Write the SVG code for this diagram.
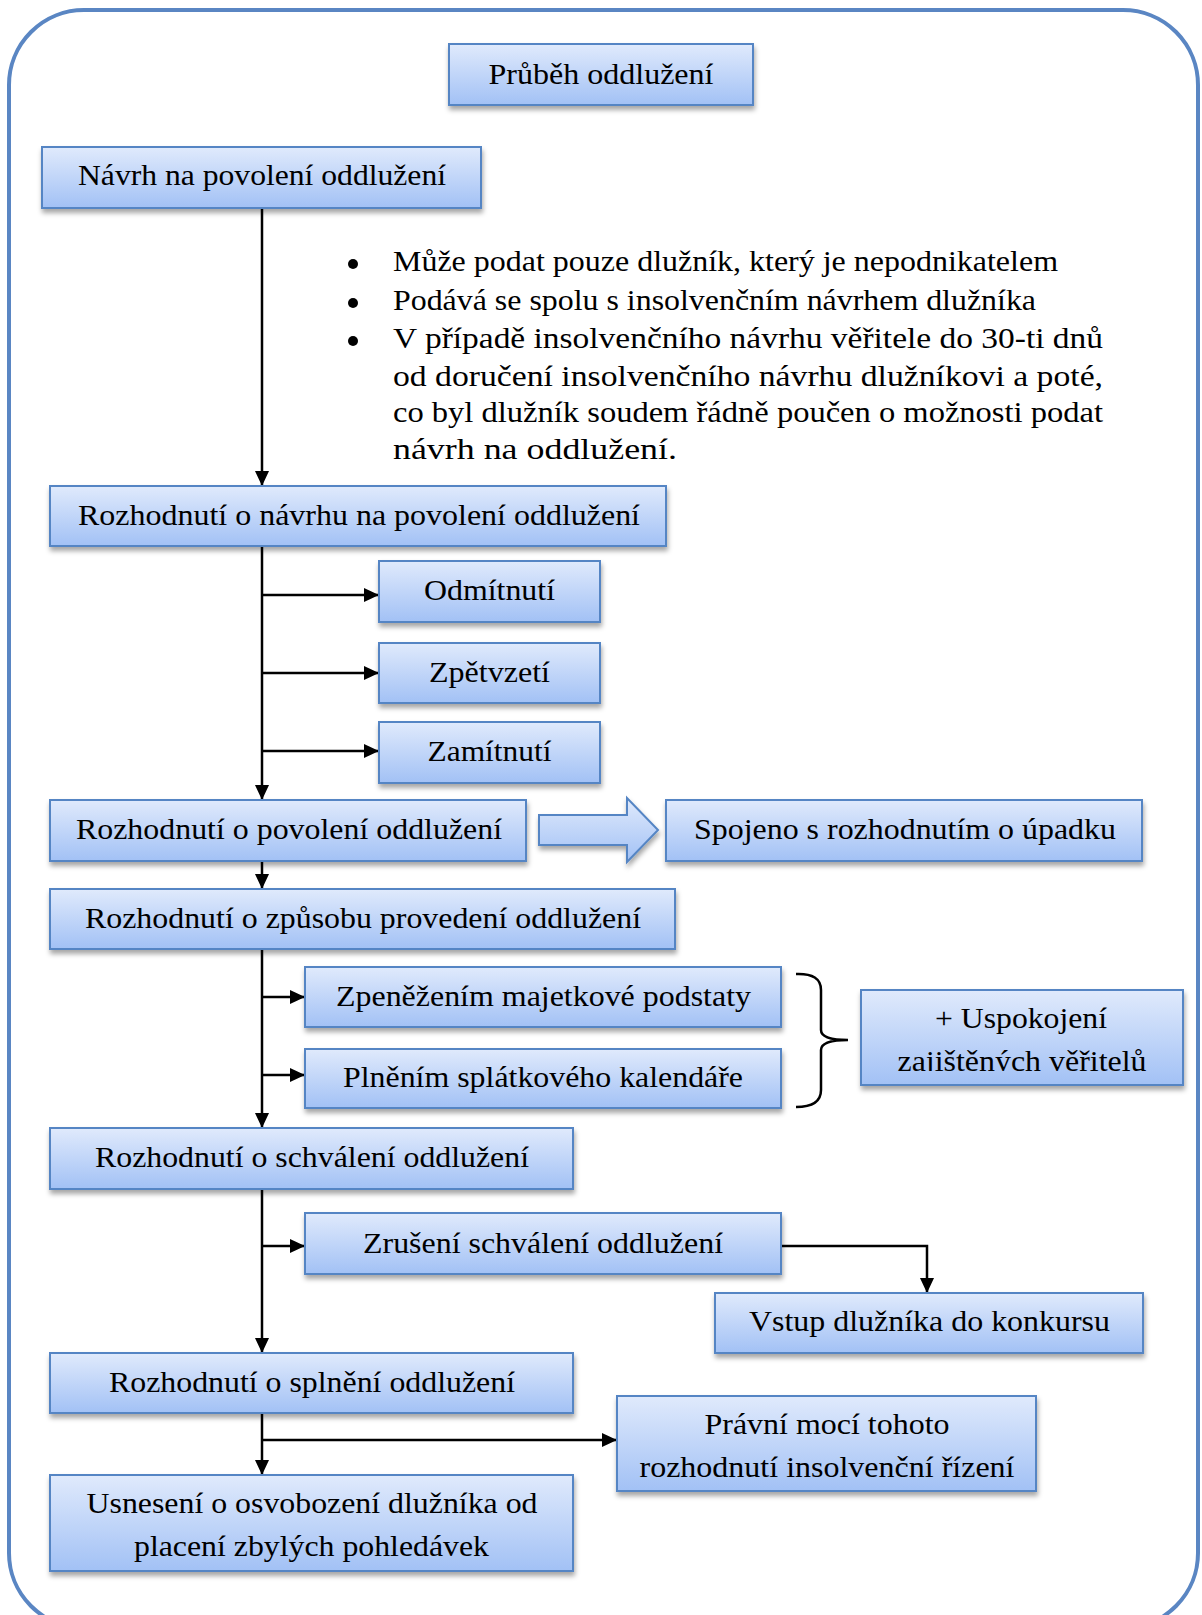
<svg xmlns="http://www.w3.org/2000/svg" width="1202" height="1615" viewBox="0 0 1202 1615">
  <defs>
    <linearGradient id="boxGrad" x1="0" y1="0" x2="0" y2="1">
      <stop offset="0" stop-color="#e0eafc"/>
      <stop offset="1" stop-color="#a2c1f5"/>
    </linearGradient>
    <filter id="shadow" x="-5%" y="-20%" width="112%" height="150%">
      <feDropShadow dx="1" dy="4" stdDeviation="2.5" flood-color="#000" flood-opacity="0.35"/>
    </filter>
    <marker id="arrow" markerUnits="userSpaceOnUse" markerWidth="16" markerHeight="14" refX="15" refY="7" orient="auto">
      <path d="M0,0 L15,7 L0,14 z" fill="#000"/>
    </marker>
    <clipPath id="clipUsp">
      <rect x="861" y="990" width="322" height="81"/>
    </clipPath>
  </defs>
  <style>
    .box { fill: url(#boxGrad); stroke: #5585c4; stroke-width: 2; filter: url(#shadow); }
    .lbl { font-family: "Liberation Serif", "Times New Roman", serif; font-size: 30px; fill: #000; text-anchor: middle; }
    .body { font-family: "Liberation Serif", "Times New Roman", serif; font-size: 30px; fill: #000; }
    .conn { fill: none; stroke: #000; stroke-width: 2.5; }
    .arr { marker-end: url(#arrow); }
  </style>

  <rect x="9" y="10" width="1189" height="1618" rx="75" ry="75" fill="#fff" stroke="#5a86c3" stroke-width="4"/>

  <g id="connectors">
    <line class="conn arr" x1="262" y1="208" x2="262" y2="486"/>
    <line class="conn arr" x1="262" y1="546" x2="262" y2="800"/>
    <line class="conn arr" x1="262" y1="595" x2="379" y2="595"/>
    <line class="conn arr" x1="262" y1="673" x2="379" y2="673"/>
    <line class="conn arr" x1="262" y1="751" x2="379" y2="751"/>
    <line class="conn arr" x1="262" y1="861" x2="262" y2="889"/>
    <line class="conn arr" x1="262" y1="949" x2="262" y2="1128"/>
    <line class="conn arr" x1="262" y1="997" x2="305" y2="997"/>
    <line class="conn arr" x1="262" y1="1075" x2="305" y2="1075"/>
    <line class="conn arr" x1="262" y1="1189" x2="262" y2="1353"/>
    <line class="conn arr" x1="262" y1="1246" x2="305" y2="1246"/>
    <polyline class="conn arr" points="781,1246 927,1246 927,1293"/>
    <line class="conn arr" x1="262" y1="1413" x2="262" y2="1475"/>
    <line class="conn arr" x1="262" y1="1440" x2="617" y2="1440"/>
    <path class="conn" d="M796,974 Q821,973 821,990 L821,1030 Q821,1040 848,1040 Q821,1040 821,1050 L821,1090 Q821,1107 796,1107"/>
  </g>

  <g id="title">
    <rect class="box" x="449" y="44" width="304" height="61"/>
    <text class="lbl" x="601" y="84" textLength="225" lengthAdjust="spacingAndGlyphs">Průběh oddlužení</text>
  </g>

  <g id="navrh">
    <rect class="box" x="42" y="147" width="439" height="61"/>
    <text class="lbl" x="262" y="185" textLength="368" lengthAdjust="spacingAndGlyphs">Návrh na povolení oddlužení</text>
  </g>

  <g id="notes">
    <circle cx="353" cy="264" r="5"/>
    <circle cx="353" cy="303" r="5"/>
    <circle cx="353" cy="341" r="5"/>
    <text class="body" x="393" y="271" textLength="665" lengthAdjust="spacingAndGlyphs">Může podat pouze dlužník, který je nepodnikatelem</text>
    <text class="body" x="393" y="310" textLength="643" lengthAdjust="spacingAndGlyphs">Podává se spolu s insolvenčním návrhem dlužníka</text>
    <text class="body" x="393" y="348" textLength="710" lengthAdjust="spacingAndGlyphs">V případě insolvenčního návrhu věřitele do 30-ti dnů</text>
    <text class="body" x="393" y="386" textLength="710" lengthAdjust="spacingAndGlyphs">od doručení insolvenčního návrhu dlužníkovi a poté,</text>
    <text class="body" x="393" y="422" textLength="710" lengthAdjust="spacingAndGlyphs">co byl dlužník soudem řádně poučen o možnosti podat</text>
    <text class="body" x="393" y="459" textLength="284" lengthAdjust="spacingAndGlyphs">návrh na oddlužení.</text>
  </g>

  <g id="rozhodnuti-navrh">
    <rect class="box" x="50" y="486" width="616" height="60"/>
    <text class="lbl" x="359" y="525" textLength="562" lengthAdjust="spacingAndGlyphs">Rozhodnutí o návrhu na povolení oddlužení</text>
  </g>

  <g id="odmitnuti">
    <rect class="box" x="379" y="561" width="221" height="61"/>
    <text class="lbl" x="489.5" y="600" textLength="131" lengthAdjust="spacingAndGlyphs">Odmítnutí</text>
  </g>

  <g id="zpetvzeti">
    <rect class="box" x="379" y="643" width="221" height="60"/>
    <text class="lbl" x="489.5" y="682" textLength="121" lengthAdjust="spacingAndGlyphs">Zpětvzetí</text>
  </g>

  <g id="zamitnuti">
    <rect class="box" x="379" y="722" width="221" height="61"/>
    <text class="lbl" x="489.5" y="761" textLength="124" lengthAdjust="spacingAndGlyphs">Zamítnutí</text>
  </g>

  <g id="rozhodnuti-povoleni">
    <rect class="box" x="50" y="800" width="476" height="61"/>
    <text class="lbl" x="289" y="838.5" textLength="426" lengthAdjust="spacingAndGlyphs">Rozhodnutí o povolení oddlužení</text>
  </g>

  <g id="block-arrow">
    <polygon class="box" points="539,815 627,815 627,798 658,830 627,862 627,845 539,845"/>
  </g>

  <g id="spojeno">
    <rect class="box" x="666" y="800" width="476" height="61"/>
    <text class="lbl" x="905" y="838.5" textLength="422" lengthAdjust="spacingAndGlyphs">Spojeno s rozhodnutím o úpadku</text>
  </g>

  <g id="rozhodnuti-zpusob">
    <rect class="box" x="50" y="889" width="625" height="60"/>
    <text class="lbl" x="363" y="928" textLength="556" lengthAdjust="spacingAndGlyphs">Rozhodnutí o způsobu provedení oddlužení</text>
  </g>

  <g id="zpenezenim">
    <rect class="box" x="305" y="967" width="476" height="60"/>
    <text class="lbl" x="543.5" y="1006" textLength="415" lengthAdjust="spacingAndGlyphs">Zpeněžením majetkové podstaty</text>
  </g>

  <g id="plnenim">
    <rect class="box" x="305" y="1049" width="476" height="59"/>
    <text class="lbl" x="543" y="1087" textLength="400" lengthAdjust="spacingAndGlyphs">Plněním splátkového kalendáře</text>
  </g>

  <g id="uspokojeni">
    <rect class="box" x="861" y="990" width="322" height="95"/>
    <g clip-path="url(#clipUsp)">
      <text class="lbl" x="1021" y="1028" textLength="172" lengthAdjust="spacingAndGlyphs">+ Uspokojení</text>
      <text class="lbl" x="1022" y="1071" textLength="249" lengthAdjust="spacingAndGlyphs">zajištěných věřitelů</text>
    </g>
  </g>

  <g id="rozhodnuti-schvaleni">
    <rect class="box" x="50" y="1128" width="523" height="61"/>
    <text class="lbl" x="312" y="1166.5" textLength="434" lengthAdjust="spacingAndGlyphs">Rozhodnutí o schválení oddlužení</text>
  </g>

  <g id="zruseni">
    <rect class="box" x="305" y="1213" width="476" height="61"/>
    <text class="lbl" x="543" y="1252.5" textLength="360" lengthAdjust="spacingAndGlyphs">Zrušení schválení oddlužení</text>
  </g>

  <g id="vstup">
    <rect class="box" x="715" y="1293" width="428" height="60"/>
    <text class="lbl" x="929.5" y="1331" textLength="361" lengthAdjust="spacingAndGlyphs">Vstup dlužníka do konkursu</text>
  </g>

  <g id="rozhodnuti-splneni">
    <rect class="box" x="50" y="1353" width="523" height="60"/>
    <text class="lbl" x="312" y="1392" textLength="406" lengthAdjust="spacingAndGlyphs">Rozhodnutí o splnění oddlužení</text>
  </g>

  <g id="pravni-moc">
    <rect class="box" x="617" y="1396" width="419" height="95"/>
    <text class="lbl" x="827" y="1434" textLength="245" lengthAdjust="spacingAndGlyphs">Právní mocí tohoto</text>
    <text class="lbl" x="827" y="1477" textLength="375" lengthAdjust="spacingAndGlyphs">rozhodnutí insolvenční řízení</text>
  </g>

  <g id="usneseni">
    <rect class="box" x="50" y="1475" width="523" height="96"/>
    <text class="lbl" x="312" y="1513" textLength="451" lengthAdjust="spacingAndGlyphs">Usnesení o osvobození dlužníka od</text>
    <text class="lbl" x="311.5" y="1556" textLength="355" lengthAdjust="spacingAndGlyphs">placení zbylých pohledávek</text>
  </g>
</svg>
